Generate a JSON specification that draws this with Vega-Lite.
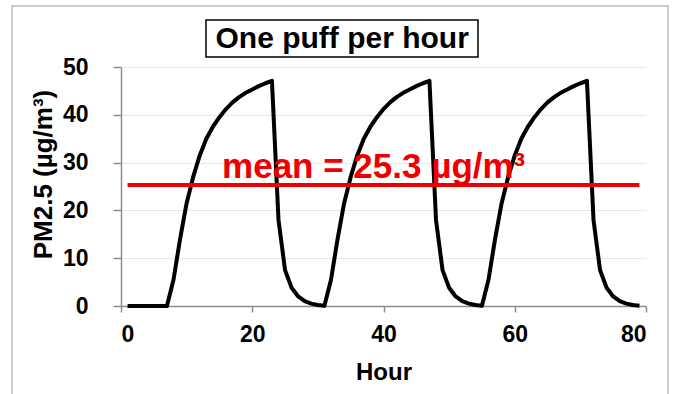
{
  "$schema": "https://vega.github.io/schema/vega-lite/v6.json",
  "width": 525,
  "height": 239,
  "autosize": {"type": "none"},
  "padding": {"left": 121, "top": 67, "right": 29, "bottom": 88},
  "background": "white",
  "config": {"view": {"stroke": null}, "font": "Liberation Sans"},
  "datasets": {
    "pm": [
      {"hour": 1, "pm25": 0}, {"hour": 2, "pm25": 0}, {"hour": 3, "pm25": 0}, {"hour": 4, "pm25": 0},
      {"hour": 5, "pm25": 0}, {"hour": 6, "pm25": 0}, {"hour": 7, "pm25": 0}, {"hour": 8, "pm25": 5.5},
      {"hour": 9, "pm25": 14}, {"hour": 10, "pm25": 21.5}, {"hour": 11, "pm25": 27}, {"hour": 12, "pm25": 31.5},
      {"hour": 13, "pm25": 35}, {"hour": 14, "pm25": 37.5}, {"hour": 15, "pm25": 39.5}, {"hour": 16, "pm25": 41.2},
      {"hour": 17, "pm25": 42.6}, {"hour": 18, "pm25": 43.7}, {"hour": 19, "pm25": 44.6}, {"hour": 20, "pm25": 45.3},
      {"hour": 21, "pm25": 46}, {"hour": 22, "pm25": 46.6}, {"hour": 23, "pm25": 47.1}, {"hour": 24, "pm25": 18},
      {"hour": 25, "pm25": 7.5}, {"hour": 26, "pm25": 3.8}, {"hour": 27, "pm25": 2}, {"hour": 28, "pm25": 1},
      {"hour": 29, "pm25": 0.5}, {"hour": 30, "pm25": 0.2}, {"hour": 31, "pm25": 0.05}, {"hour": 32, "pm25": 5.5},
      {"hour": 33, "pm25": 14}, {"hour": 34, "pm25": 21.5}, {"hour": 35, "pm25": 27}, {"hour": 36, "pm25": 31.5},
      {"hour": 37, "pm25": 35}, {"hour": 38, "pm25": 37.5}, {"hour": 39, "pm25": 39.5}, {"hour": 40, "pm25": 41.2},
      {"hour": 41, "pm25": 42.6}, {"hour": 42, "pm25": 43.7}, {"hour": 43, "pm25": 44.6}, {"hour": 44, "pm25": 45.3},
      {"hour": 45, "pm25": 46}, {"hour": 46, "pm25": 46.6}, {"hour": 47, "pm25": 47.1}, {"hour": 48, "pm25": 18},
      {"hour": 49, "pm25": 7.5}, {"hour": 50, "pm25": 3.8}, {"hour": 51, "pm25": 2}, {"hour": 52, "pm25": 1},
      {"hour": 53, "pm25": 0.5}, {"hour": 54, "pm25": 0.2}, {"hour": 55, "pm25": 0.05}, {"hour": 56, "pm25": 5.5},
      {"hour": 57, "pm25": 14}, {"hour": 58, "pm25": 21.5}, {"hour": 59, "pm25": 27}, {"hour": 60, "pm25": 31.5},
      {"hour": 61, "pm25": 35}, {"hour": 62, "pm25": 37.5}, {"hour": 63, "pm25": 39.5}, {"hour": 64, "pm25": 41.2},
      {"hour": 65, "pm25": 42.6}, {"hour": 66, "pm25": 43.7}, {"hour": 67, "pm25": 44.6}, {"hour": 68, "pm25": 45.3},
      {"hour": 69, "pm25": 46}, {"hour": 70, "pm25": 46.6}, {"hour": 71, "pm25": 47.1}, {"hour": 72, "pm25": 18},
      {"hour": 73, "pm25": 7.5}, {"hour": 74, "pm25": 3.8}, {"hour": 75, "pm25": 2}, {"hour": 76, "pm25": 1},
      {"hour": 77, "pm25": 0.5}, {"hour": 78, "pm25": 0.2}, {"hour": 79, "pm25": 0.05}
    ],
    "mean": [{"start": 1, "end": 79, "mean": 25.3, "label": "mean = 25.3 µg/m³"}],
    "title": [{"text": "One puff per hour"}]
  },
  "layer": [
    {
      "data": {"name": "pm"},
      "mark": {"type": "line", "color": "black", "strokeWidth": 4, "strokeJoin": "round"},
      "encoding": {
        "x": {
          "field": "hour", "type": "quantitative",
          "scale": {"domain": [0, 80], "nice": false},
          "axis": {
            "title": "Hour", "values": [0, 20, 40, 60, 80], "grid": false,
            "domainColor": "#8c8c8c", "domainWidth": 1.5, "tickColor": "#8c8c8c", "tickWidth": 1.5, "tickSize": 6,
            "labelFont": "Liberation Sans", "labelFontWeight": "bold", "labelFontSize": 23, "labelColor": "black", "labelPadding": 11,
            "titleFont": "Liberation Sans", "titleFontWeight": "bold", "titleFontSize": 24, "titleColor": "black", "titlePadding": 14
          }
        },
        "y": {
          "field": "pm25", "type": "quantitative",
          "scale": {"domain": [0, 50], "nice": false},
          "axis": {
            "title": "PM2.5 (µg/m³)", "values": [0, 10, 20, 30, 40, 50], "grid": true, "gridColor": "#f0e6da", "gridWidth": 1,
            "domainColor": "#8c8c8c", "domainWidth": 1.5, "tickColor": "#8c8c8c", "tickWidth": 1.5, "tickSize": 8,
            "labelFont": "Liberation Sans", "labelFontWeight": "bold", "labelFontSize": 23, "labelColor": "black", "labelPadding": 25,
            "titleFont": "Liberation Sans", "titleFontWeight": "bold", "titleFontSize": 26, "titleColor": "black", "titlePadding": 6,
            "titleY": 107
          }
        }
      }
    },
    {
      "data": {"name": "title"},
      "mark": {"type": "rect", "fill": null, "stroke": "#bdbdbd", "strokeWidth": 1.5},
      "encoding": {
        "x": {"datum": -16.6, "type": "quantitative"},
        "x2": {"datum": 83.35},
        "y": {"datum": 62.76, "type": "quantitative"},
        "y2": {"datum": -30}
      }
    },
    {
      "data": {"name": "mean"},
      "mark": {"type": "rule", "color": "#ee0000", "strokeWidth": 4},
      "encoding": {
        "x": {"field": "start", "type": "quantitative"},
        "x2": {"field": "end"},
        "y": {"field": "mean", "type": "quantitative"}
      }
    },
    {
      "data": {"name": "mean"},
      "mark": {"type": "text", "color": "#ee0000", "fontSize": 35, "fontWeight": "bold", "font": "Liberation Sans", "align": "center", "baseline": "alphabetic"},
      "encoding": {
        "x": {"datum": 38.5, "type": "quantitative"},
        "y": {"datum": 26.8, "type": "quantitative"},
        "text": {"field": "label"}
      }
    },
    {
      "data": {"name": "title"},
      "mark": {"type": "rect", "fill": "white", "stroke": "black", "strokeWidth": 1.5},
      "encoding": {
        "x": {"datum": 12.95, "type": "quantitative"},
        "x2": {"datum": 54.4},
        "y": {"datum": 59.83, "type": "quantitative"},
        "y2": {"datum": 52.09}
      }
    },
    {
      "data": {"name": "title"},
      "mark": {"type": "text", "color": "black", "fontSize": 30, "fontWeight": "bold", "font": "Liberation Sans", "align": "center", "baseline": "middle"},
      "encoding": {
        "x": {"datum": 33.7, "type": "quantitative"},
        "y": {"datum": 55.96, "type": "quantitative"},
        "text": {"field": "text"}
      }
    }
  ]
}
